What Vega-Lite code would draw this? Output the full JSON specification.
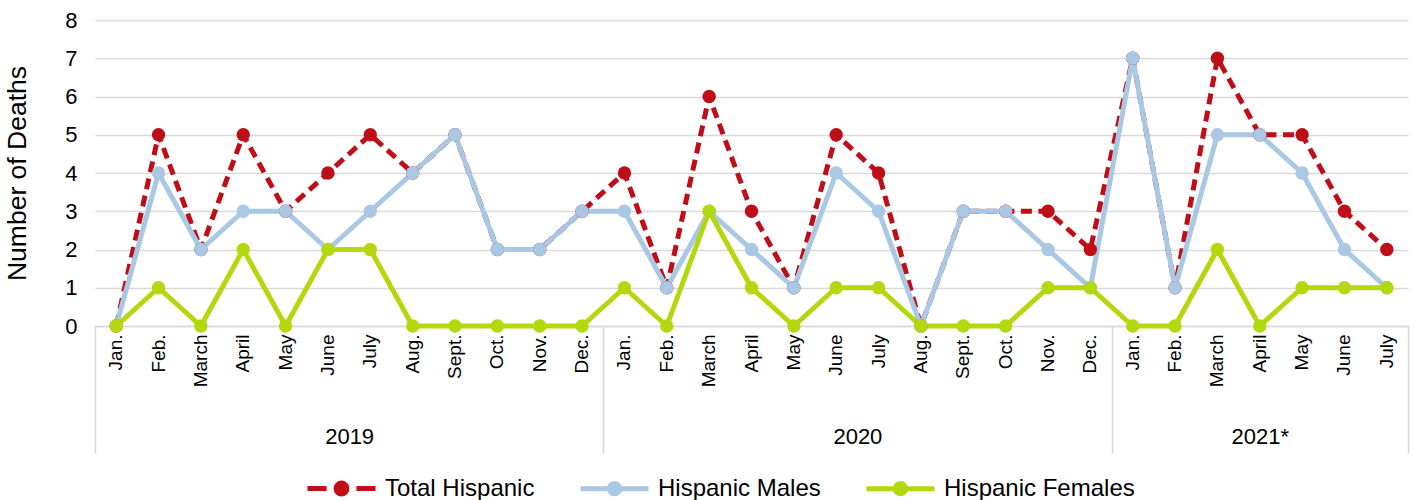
{
  "$schema": "https://vega.github.io/schema/vega-lite/v6.json",
  "width": 1313,
  "height": 306,
  "autosize": {"type": "none"},
  "padding": {"left": 95, "top": 20, "right": 6, "bottom": 174},
  "background": "white",
  "config": {
    "view": {"stroke": null},
    "font": "Liberation Sans"
  },
  "data": {"values": [
    {"period":"Jan. 2019","series":"Total Hispanic","deaths":0},
    {"period":"Feb. 2019","series":"Total Hispanic","deaths":5},
    {"period":"March 2019","series":"Total Hispanic","deaths":2},
    {"period":"April 2019","series":"Total Hispanic","deaths":5},
    {"period":"May 2019","series":"Total Hispanic","deaths":3},
    {"period":"June 2019","series":"Total Hispanic","deaths":4},
    {"period":"July 2019","series":"Total Hispanic","deaths":5},
    {"period":"Aug. 2019","series":"Total Hispanic","deaths":4},
    {"period":"Sept. 2019","series":"Total Hispanic","deaths":5},
    {"period":"Oct. 2019","series":"Total Hispanic","deaths":2},
    {"period":"Nov. 2019","series":"Total Hispanic","deaths":2},
    {"period":"Dec. 2019","series":"Total Hispanic","deaths":3},
    {"period":"Jan. 2020","series":"Total Hispanic","deaths":4},
    {"period":"Feb. 2020","series":"Total Hispanic","deaths":1},
    {"period":"March 2020","series":"Total Hispanic","deaths":6},
    {"period":"April 2020","series":"Total Hispanic","deaths":3},
    {"period":"May 2020","series":"Total Hispanic","deaths":1},
    {"period":"June 2020","series":"Total Hispanic","deaths":5},
    {"period":"July 2020","series":"Total Hispanic","deaths":4},
    {"period":"Aug. 2020","series":"Total Hispanic","deaths":0},
    {"period":"Sept. 2020","series":"Total Hispanic","deaths":3},
    {"period":"Oct. 2020","series":"Total Hispanic","deaths":3},
    {"period":"Nov. 2020","series":"Total Hispanic","deaths":3},
    {"period":"Dec. 2020","series":"Total Hispanic","deaths":2},
    {"period":"Jan. 2021","series":"Total Hispanic","deaths":7},
    {"period":"Feb. 2021","series":"Total Hispanic","deaths":1},
    {"period":"March 2021","series":"Total Hispanic","deaths":7},
    {"period":"April 2021","series":"Total Hispanic","deaths":5},
    {"period":"May 2021","series":"Total Hispanic","deaths":5},
    {"period":"June 2021","series":"Total Hispanic","deaths":3},
    {"period":"July 2021","series":"Total Hispanic","deaths":2},
    {"period":"Jan. 2019","series":"Hispanic Males","deaths":0},
    {"period":"Feb. 2019","series":"Hispanic Males","deaths":4},
    {"period":"March 2019","series":"Hispanic Males","deaths":2},
    {"period":"April 2019","series":"Hispanic Males","deaths":3},
    {"period":"May 2019","series":"Hispanic Males","deaths":3},
    {"period":"June 2019","series":"Hispanic Males","deaths":2},
    {"period":"July 2019","series":"Hispanic Males","deaths":3},
    {"period":"Aug. 2019","series":"Hispanic Males","deaths":4},
    {"period":"Sept. 2019","series":"Hispanic Males","deaths":5},
    {"period":"Oct. 2019","series":"Hispanic Males","deaths":2},
    {"period":"Nov. 2019","series":"Hispanic Males","deaths":2},
    {"period":"Dec. 2019","series":"Hispanic Males","deaths":3},
    {"period":"Jan. 2020","series":"Hispanic Males","deaths":3},
    {"period":"Feb. 2020","series":"Hispanic Males","deaths":1},
    {"period":"March 2020","series":"Hispanic Males","deaths":3},
    {"period":"April 2020","series":"Hispanic Males","deaths":2},
    {"period":"May 2020","series":"Hispanic Males","deaths":1},
    {"period":"June 2020","series":"Hispanic Males","deaths":4},
    {"period":"July 2020","series":"Hispanic Males","deaths":3},
    {"period":"Aug. 2020","series":"Hispanic Males","deaths":0},
    {"period":"Sept. 2020","series":"Hispanic Males","deaths":3},
    {"period":"Oct. 2020","series":"Hispanic Males","deaths":3},
    {"period":"Nov. 2020","series":"Hispanic Males","deaths":2},
    {"period":"Dec. 2020","series":"Hispanic Males","deaths":1},
    {"period":"Jan. 2021","series":"Hispanic Males","deaths":7},
    {"period":"Feb. 2021","series":"Hispanic Males","deaths":1},
    {"period":"March 2021","series":"Hispanic Males","deaths":5},
    {"period":"April 2021","series":"Hispanic Males","deaths":5},
    {"period":"May 2021","series":"Hispanic Males","deaths":4},
    {"period":"June 2021","series":"Hispanic Males","deaths":2},
    {"period":"July 2021","series":"Hispanic Males","deaths":1},
    {"period":"Jan. 2019","series":"Hispanic Females","deaths":0},
    {"period":"Feb. 2019","series":"Hispanic Females","deaths":1},
    {"period":"March 2019","series":"Hispanic Females","deaths":0},
    {"period":"April 2019","series":"Hispanic Females","deaths":2},
    {"period":"May 2019","series":"Hispanic Females","deaths":0},
    {"period":"June 2019","series":"Hispanic Females","deaths":2},
    {"period":"July 2019","series":"Hispanic Females","deaths":2},
    {"period":"Aug. 2019","series":"Hispanic Females","deaths":0},
    {"period":"Sept. 2019","series":"Hispanic Females","deaths":0},
    {"period":"Oct. 2019","series":"Hispanic Females","deaths":0},
    {"period":"Nov. 2019","series":"Hispanic Females","deaths":0},
    {"period":"Dec. 2019","series":"Hispanic Females","deaths":0},
    {"period":"Jan. 2020","series":"Hispanic Females","deaths":1},
    {"period":"Feb. 2020","series":"Hispanic Females","deaths":0},
    {"period":"March 2020","series":"Hispanic Females","deaths":3},
    {"period":"April 2020","series":"Hispanic Females","deaths":1},
    {"period":"May 2020","series":"Hispanic Females","deaths":0},
    {"period":"June 2020","series":"Hispanic Females","deaths":1},
    {"period":"July 2020","series":"Hispanic Females","deaths":1},
    {"period":"Aug. 2020","series":"Hispanic Females","deaths":0},
    {"period":"Sept. 2020","series":"Hispanic Females","deaths":0},
    {"period":"Oct. 2020","series":"Hispanic Females","deaths":0},
    {"period":"Nov. 2020","series":"Hispanic Females","deaths":1},
    {"period":"Dec. 2020","series":"Hispanic Females","deaths":1},
    {"period":"Jan. 2021","series":"Hispanic Females","deaths":0},
    {"period":"Feb. 2021","series":"Hispanic Females","deaths":0},
    {"period":"March 2021","series":"Hispanic Females","deaths":2},
    {"period":"April 2021","series":"Hispanic Females","deaths":0},
    {"period":"May 2021","series":"Hispanic Females","deaths":1},
    {"period":"June 2021","series":"Hispanic Females","deaths":1},
    {"period":"July 2021","series":"Hispanic Females","deaths":1}
  ]},
  "resolve": {"scale": {"x": "independent"}, "axis": {"x": "independent"}},
  "layer": [
    {
      "encoding": {
        "x": {
          "field": "period", "type": "ordinal", "sort": null, "bandPosition": 0.5,
          "scale": {"type": "band", "paddingInner": 0, "paddingOuter": 0},
          "axis": {
            "orient": "bottom", "title": null, "labelAngle": -90, "labelAlign": "right", "labelBaseline": "middle",
            "labelPadding": 8, "labelFontSize": 19, "labelColor": "#000000", "labelFont": "Liberation Sans",
            "labelExpr": "split(datum.value, ' ')[0]",
            "ticks": false, "domainColor": "#D9D9D9", "domainWidth": 1.5, "grid": false
          }
        },
        "y": {
          "field": "deaths", "type": "quantitative",
          "scale": {"domain": [0, 8], "nice": false},
          "axis": {
            "title": "Number of Deaths", "titleFontSize": 26.5, "titleFontWeight": "normal", "titleColor": "#000000",
            "titleFont": "Liberation Sans", "titlePadding": 33,
            "values": [0, 1, 2, 3, 4, 5, 6, 7, 8], "labelFontSize": 22, "labelColor": "#000000", "labelPadding": 18,
            "labelFont": "Liberation Sans",
            "domain": false, "ticks": false, "grid": true, "gridColor": "#D9D9D9", "gridWidth": 1.5
          }
        },
        "color": {
          "field": "series", "type": "nominal",
          "scale": {"domain": ["Total Hispanic", "Hispanic Males", "Hispanic Females"], "range": ["#BE0F18", "#A8C8E4", "#B4D80E"]},
          "legend": {
            "orient": "none", "legendX": 210, "legendY": 432, "direction": "horizontal", "title": null,
            "symbolSize": 4624, "symbolStrokeWidth": 5, "labelFontSize": 24, "labelFont": "Liberation Sans",
            "labelColor": "#000000", "labelOffset": 7, "columnPadding": 35, "labelLimit": 400,
            "encode": {"symbols": {"update": {
              "shape": {"signal": "datum.value === 'Total Hispanic' ? 'M-1,0L-0.44,0M0.44,0L1,0M-0.16,0A0.16,0.16,0,1,1,0.16,0A0.16,0.16,0,1,1,-0.16,0Z' : 'M-1,0L1,0M-0.15,0A0.15,0.15,0,1,1,0.15,0A0.15,0.15,0,1,1,-0.15,0Z'"},
              "fill": {"signal": "scale('color', datum.value)"},
              "stroke": {"signal": "scale('color', datum.value)"},
              "strokeWidth": {"value": 5},
              "opacity": {"value": 1}
            }}}
          }
        }
      },
      "layer": [
        {
          "transform": [{"filter": "datum.series === 'Total Hispanic'"}],
          "mark": {"type": "line", "strokeWidth": 5, "strokeJoin": "round", "strokeDash": [11, 6.5]},
          "encoding": {"color": {"value": "#BE0F18"}}
        },
        {
          "transform": [{"filter": "datum.series !== 'Total Hispanic'"}],
          "mark": {"type": "line", "strokeWidth": 5, "strokeJoin": "round"}
        },
        {
          "mark": {"type": "point", "filled": true, "size": 180, "opacity": 1, "strokeWidth": 0}
        }
      ]
    },
    {
      "data": {"values": [{}]},
      "mark": {"type": "rule", "opacity": 0},
      "encoding": {
        "x": {
          "datum": 0, "type": "quantitative",
          "scale": {"domain": [0, 31], "nice": false, "zero": false},
          "axis": {
            "orient": "bottom", "title": null, "values": [6, 18, 27.5],
            "labelExpr": "datum.value < 12 ? '2019' : datum.value < 24 ? '2020' : '2021*'",
            "ticks": false, "domain": false, "grid": false, "offset": 98, "labelPadding": 2,
            "labelFontSize": 22, "labelColor": "#000000", "labelFont": "Liberation Sans"
          }
        }
      }
    },
    {
      "data": {"values": [{}]},
      "mark": {"type": "rule", "opacity": 0},
      "encoding": {
        "x": {
          "datum": 0, "type": "quantitative",
          "scale": {"domain": [0, 31], "nice": false, "zero": false},
          "axis": {
            "orient": "bottom", "title": null, "values": [0, 12, 24, 31],
            "labels": false, "domain": false, "grid": false, "ticks": true, "tickSize": 127,
            "tickColor": "#D9D9D9", "tickWidth": 1.5, "offset": 0
          }
        }
      }
    }
  ]
}
